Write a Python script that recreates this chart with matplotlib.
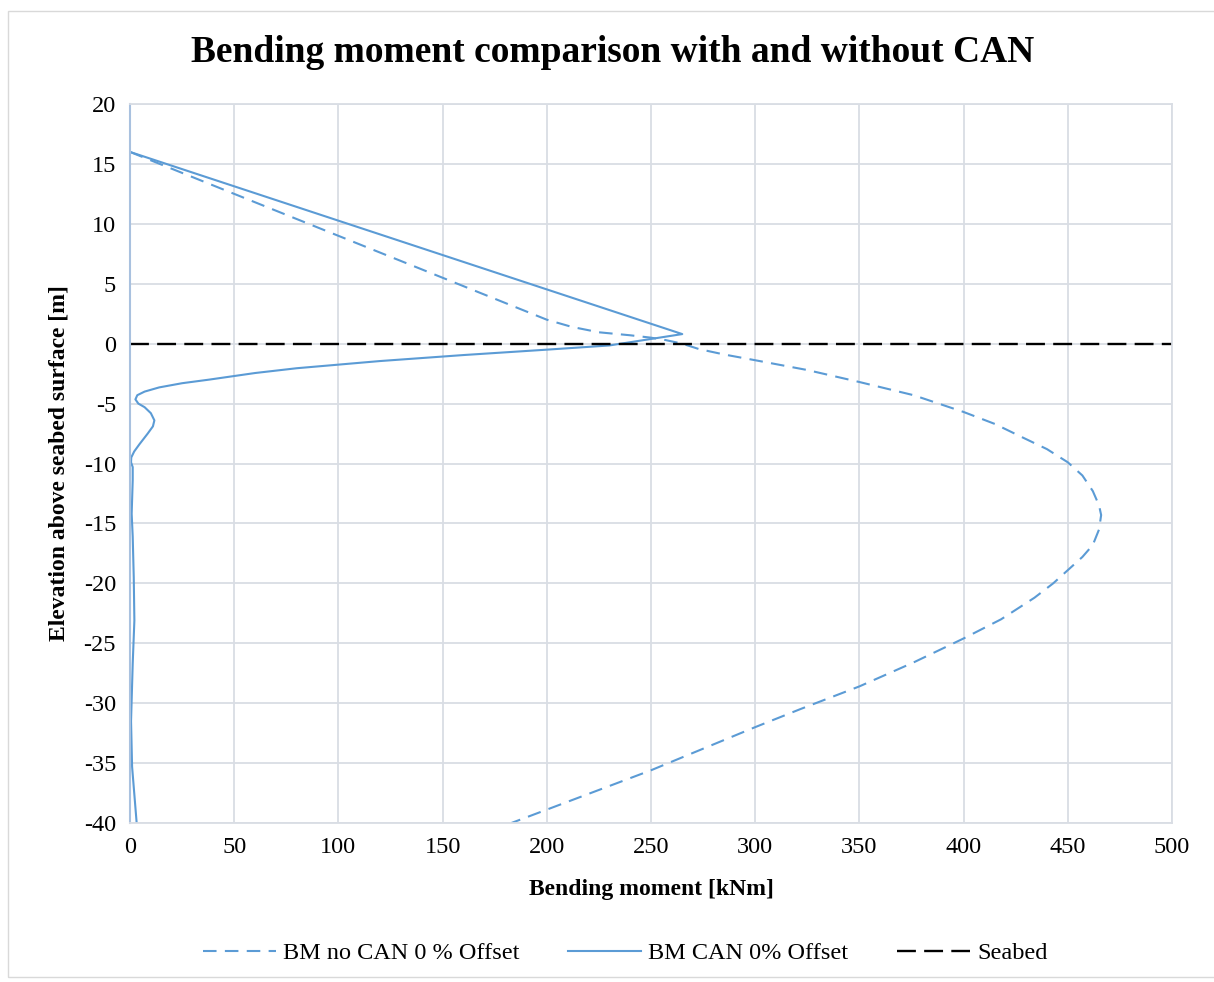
import matplotlib.pyplot as plt
from matplotlib.patches import Rectangle

plt.rcParams['font.family'] = ['Liberation Serif', 'DejaVu Serif']
plt.rcParams['axes.unicode_minus'] = False

# BM without CAN (dashed)
bm_no_can = [0, 200, 212, 225, 240, 250, 257, 265, 273, 285, 299, 325, 350, 376, 400, 415,
             428, 440, 450, 457, 462, 465, 466, 465, 462, 457, 450, 443, 434, 418, 400,
             376, 350, 321.6, 300, 250, 183]
elev_no_can = [16, 2.0, 1.4, 0.95, 0.7, 0.5, 0.3, 0.0, -0.45, -0.9, -1.35, -2.2, -3.2, -4.3,
               -5.7, -6.7, -7.8, -8.8, -9.9, -11.0, -12.3, -13.5, -14.3, -15.5, -16.8, -17.8,
               -18.9, -20.0, -21.2, -23.0, -24.6, -26.6, -28.6, -30.5, -32.0, -35.6, -40]

# BM with CAN (solid)
bm_can = [0, 265, 230, 200, 160, 120, 100, 80, 60, 38, 25, 14, 7, 3.5, 2.6, 4, 7, 10, 11.7,
          11, 8.5, 4.5, 2, 0.6, 0.5, 1.3, 1.3, 0.8, 1.3, 1.8, 2.1, 1.3, 0.5, 1.0, 3.2]
elev_can = [16, 0.8, -0.15, -0.5, -0.95, -1.45, -1.75, -2.05, -2.45, -3.0, -3.3, -3.65,
            -4.0, -4.3, -4.65, -5.0, -5.3, -5.8, -6.4, -6.9, -7.5, -8.4, -9.0, -9.5, -9.9,
            -10.3, -11.4, -14.2, -16.1, -19.5, -23.1, -26.7, -31.5, -35.3, -40]

seabed_x = [0, 500]
seabed_y = [0, 0]

blue = '#5b9bd5'
grid_c = '#d9dde4'

fig = plt.figure(figsize=(12.14, 9.82), dpi=100)
fig.patches.append(Rectangle((8 / 1214, 0.005), 1.2, 1 - 16 / 982, transform=fig.transFigure,
                             fill=False, edgecolor='#d9d9d9', linewidth=1))
ax = fig.add_axes([130 / 1214, 1 - 823 / 982, 1042 / 1214, 719 / 982])

ax.plot(bm_no_can, elev_no_can, color=blue, linestyle=(0, (6.5, 4)), linewidth=1.5,
        label='BM no CAN 0 % Offset')
ax.plot(bm_can, elev_can, color=blue, linestyle='-', linewidth=1.5,
        label='BM CAN 0% Offset')
ax.plot(seabed_x, seabed_y, color='black', linestyle=(0, (8, 3.5)), linewidth=1.7,
        label='Seabed')

ax.set_xlim(0, 500)
ax.set_ylim(-40, 20)
ax.set_xticks(range(0, 501, 50))
ax.set_yticks(range(-40, 21, 5))
ax.grid(True, color=grid_c, linewidth=1.3)
ax.set_axisbelow(True)
for s in ['top', 'right', 'bottom']:
    ax.spines[s].set_color(grid_c)
    ax.spines[s].set_linewidth(1.3)
ax.spines['left'].set_color('#a9c1df')
ax.spines['left'].set_linewidth(1.5)
ax.tick_params(length=0, labelsize=17.5, pad=10)

ax.set_xlabel('Bending moment [kNm]', fontsize=17, fontweight='bold', labelpad=15)
ax.set_ylabel('Elevation above seabed surface [m]', fontsize=17, fontweight='bold', labelpad=10)
fig.text(0.505, 1 - 52 / 982, 'Bending moment comparison with and without CAN',
         fontsize=27, fontweight='bold', ha='center', va='center')

fig.legend(loc='center', bbox_to_anchor=(0.515, 1 - 953 / 982), ncol=3, frameon=False,
           fontsize=17.5, handlelength=3.0, columnspacing=2.0, handletextpad=0.3)

fig.savefig('out.png', dpi=100)
